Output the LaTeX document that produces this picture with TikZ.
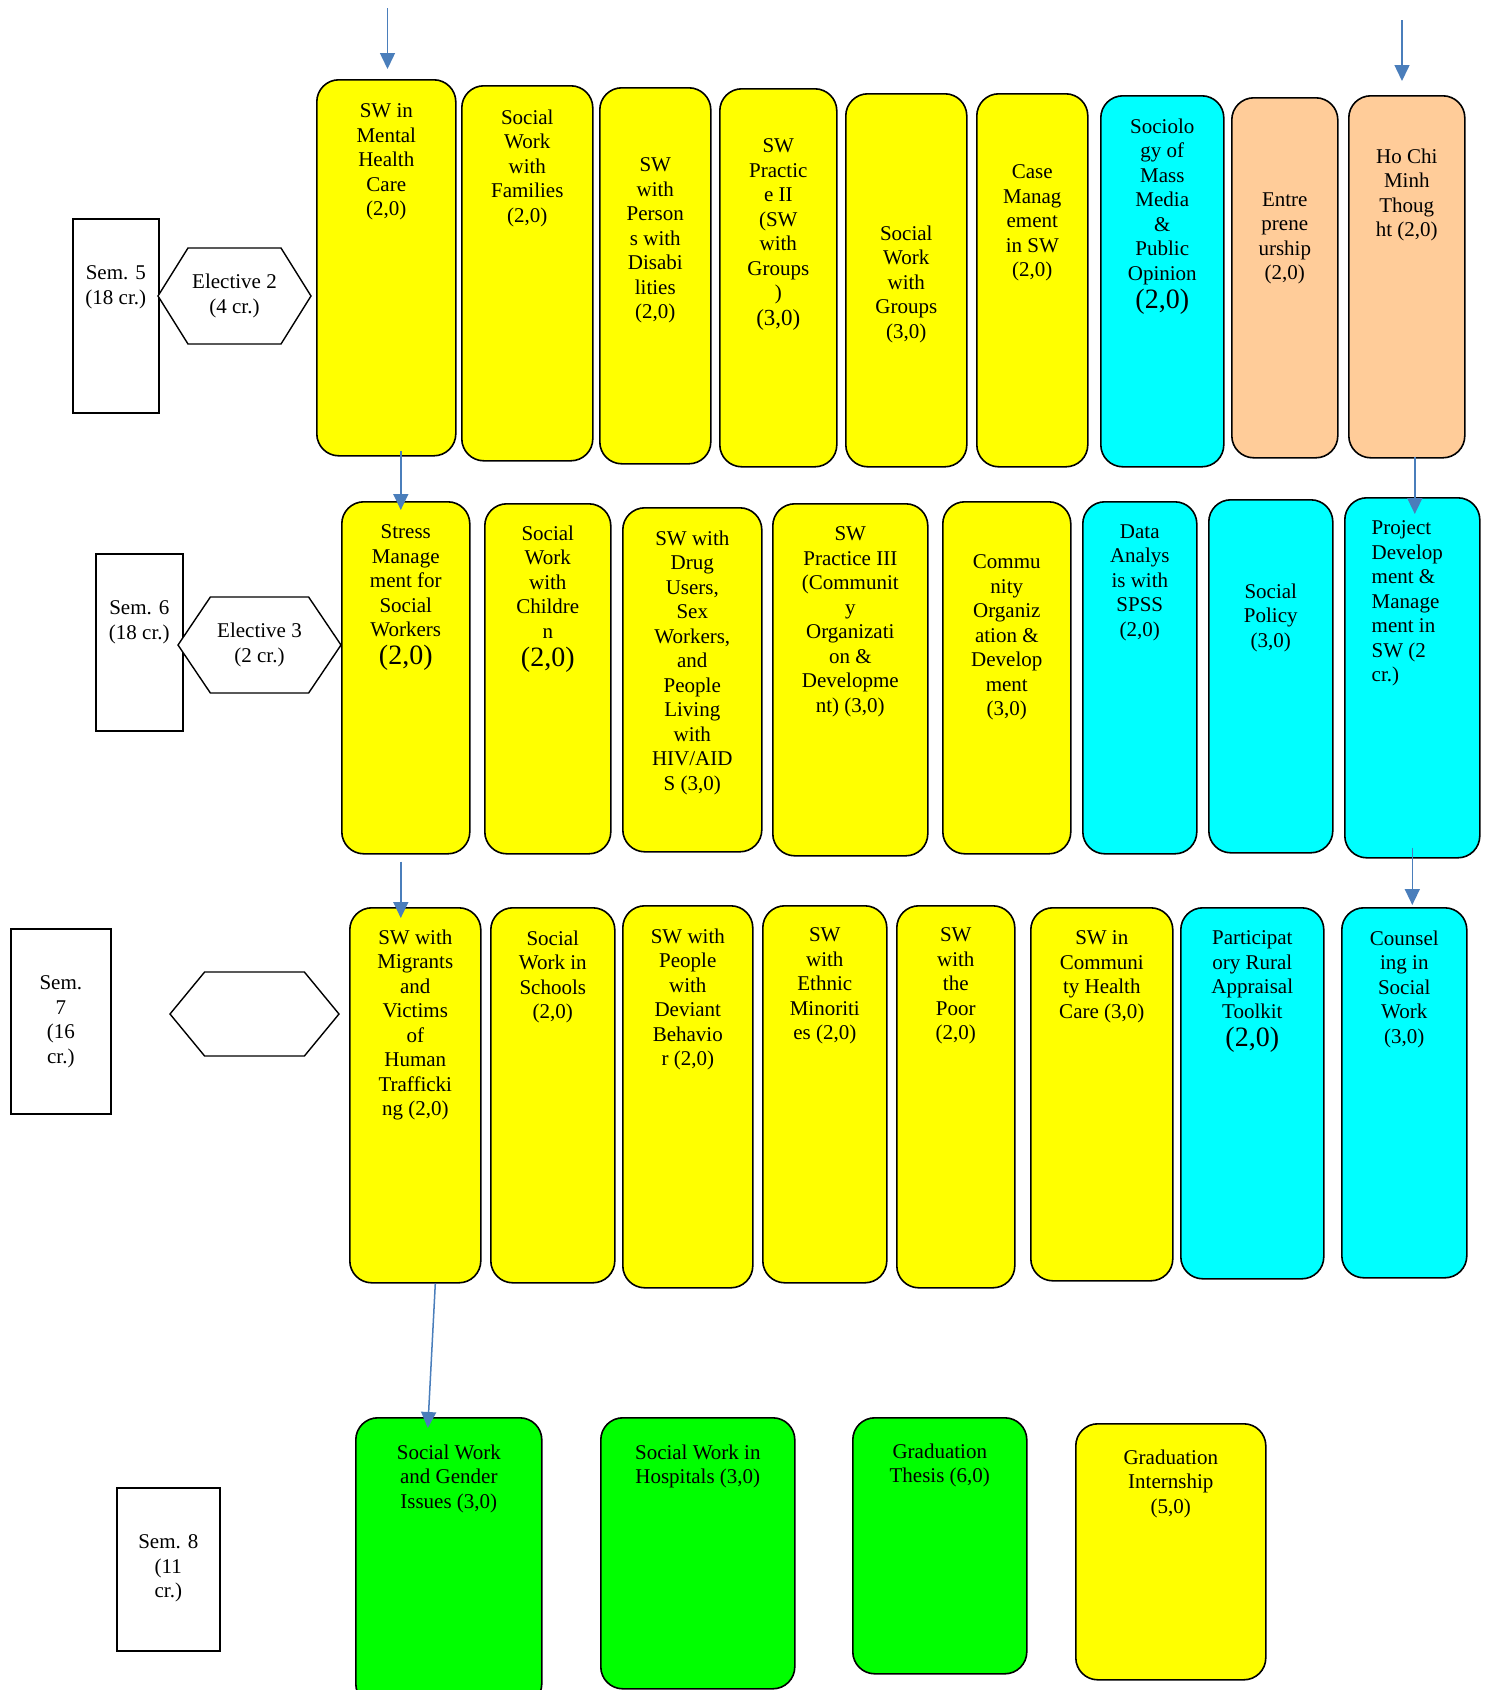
\documentclass[tikz,border=0pt]{standalone}
\usepackage{fontspec}
\setmainfont{Liberation Serif}
\usetikzlibrary{arrows.meta}
\usetikzlibrary{shapes.symbols}

\definecolor{swyellow}{HTML}{FFFF00}
\definecolor{swcyan}{HTML}{00FFFF}
\definecolor{swpeach}{HTML}{FFCC99}
\definecolor{swgreen}{HTML}{00FF00}
\definecolor{flowblue}{HTML}{4A7EBB}

\newcommand{\coursefont}{\fontsize{21}{24.5}\selectfont}
\newcommand{\bigcr}[1]{{\fontsize{28}{30}\selectfont #1}}
\newcommand{\midcr}[1]{{\fontsize{23}{26}\selectfont #1}}

\begin{document}
\begin{tikzpicture}
 [ x=1pt, y=-1pt
 , course/.style={draw, line width=1.6pt, rounded corners=22pt, anchor=north west, inner sep=0pt}
 , sem/.style={draw, line width=1.6pt, anchor=north west, inner sep=0pt}
 , elective/.style={draw, line width=1.4pt, fill=white, signal, signal to=east and west, inner sep=0pt, align=center, font=\coursefont}
 , txt/.style={align=center, inner sep=0pt, anchor=north, yshift=-2.5pt, font=\coursefont, execute at begin node=\strut}
 , flow/.style={draw=flowblue, line width=1.5pt, -{Triangle[length=16pt,width=15pt]}}
 ]
  \useasboundingbox (0,0) rectangle (1490,1690);

  % semester 5
  \node [sem, minimum width=86pt, minimum height=194pt] (s5) at (72,218) {};
  \node [txt] (s5-t) at ([yshift=-45pt]s5.north) {Sem. 5\\(18 cr.)};
  \node [elective, minimum width=153pt, minimum height=96pt, signal pointer angle=116] (el5) at (234.5,296) {Elective 2\\(4 cr.)};

  \node [course, fill=swyellow, minimum width=139pt, minimum height=376pt] (mental) at (316,79) {};
  \node [txt] (mental-t) at ([yshift=-22pt]mental.north) {SW in\\Mental\\Health\\Care\\(2,0)};
  \node [course, fill=swyellow, minimum width=131pt, minimum height=375pt] (families) at (461,85) {};
  \node [txt] (families-t) at ([yshift=-22pt]families.north) {Social\\Work\\with\\Families\\(2,0)};
  \node [course, fill=swyellow, minimum width=111pt, minimum height=376pt] (disab) at (599,87) {};
  \node [txt] (disab-t) at ([yshift=-68pt]disab.north) {SW\\with\\Person\\s with\\Disabi\\lities\\(2,0)};
  \node [course, fill=swyellow, minimum width=117pt, minimum height=378pt] (prac2) at (719,88) {};
  \node [txt] (prac2-t) at ([yshift=-48pt]prac2.north) {SW\\Practic\\e II\\(SW\\with\\Groups\\)\\[1pt]\midcr{(3,0)}};
  \node [course, fill=swyellow, minimum width=121pt, minimum height=373pt] (groups) at (845,93) {};
  \node [txt] (groups-t) at ([yshift=-130pt]groups.north) {Social\\Work\\with\\Groups\\(3,0)};
  \node [course, fill=swyellow, minimum width=111pt, minimum height=373pt] (casem) at (976,93) {};
  \node [txt] (casem-t) at ([yshift=-69pt]casem.north) {Case\\Manag\\ement\\in SW\\(2,0)};
  \node [course, fill=swcyan, minimum width=123pt, minimum height=371pt] (media) at (1100,95) {};
  \node [txt] (media-t) at ([yshift=-21pt]media.north) {Sociolo\\gy of\\Mass\\Media\\\&\\Public\\Opinion\\[3.5pt]\bigcr{(2,0)}};
  \node [course, fill=swpeach, minimum width=106pt, minimum height=360pt] (entre) at (1231,97) {};
  \node [txt] (entre-t) at ([yshift=-93pt]entre.north) {Entre\\prene\\urship\\(2,0)};
  \node [course, fill=swpeach, minimum width=116pt, minimum height=362pt] (hcm) at (1348,95) {};
  \node [txt] (hcm-t) at ([yshift=-51pt]hcm.north) {Ho Chi\\Minh\\Thoug\\ht (2,0)};

  % semester 6
  \node [sem, minimum width=87pt, minimum height=177pt] (s6) at (95,553) {};
  \node [txt] (s6-t) at ([yshift=-45pt]s6.north) {Sem. 6\\(18 cr.)};
  \node [elective, minimum width=163pt, minimum height=96pt, signal pointer angle=112] (el6) at (259.5,645) {Elective 3\\(2 cr.)};

  \node [course, fill=swyellow, minimum width=128pt, minimum height=352pt] (stress) at (341,501) {};
  \node [txt] (stress-t) at ([yshift=-21pt]stress.north) {Stress\\Manage\\ment for\\Social\\Workers\\[3.5pt]\bigcr{(2,0)}};
  \node [course, fill=swyellow, minimum width=126pt, minimum height=350pt] (children) at (484,503) {};
  \node [txt] (children-t) at ([yshift=-20pt]children.north) {Social\\Work\\with\\Childre\\n\\[3.5pt]\bigcr{(2,0)}};
  \node [course, fill=swyellow, minimum width=139pt, minimum height=344pt] (drug) at (622,507) {};
  \node [txt] (drug-t) at ([yshift=-21pt]drug.north) {SW with\\Drug\\Users,\\Sex\\Workers,\\and\\People\\Living\\with\\HIV/AID\\S (3,0)};
  \node [course, fill=swyellow, minimum width=155pt, minimum height=352pt] (prac3) at (772,503) {};
  \node [txt] (prac3-t) at ([yshift=-21pt]prac3.north) {SW\\Practice III\\(Communit\\y\\Organizati\\on \&\\Developme\\nt) (3,0)};
  \node [course, fill=swyellow, minimum width=128pt, minimum height=352pt] (commdev) at (942,501) {};
  \node [txt] (commdev-t) at ([yshift=-51pt]commdev.north) {Commu\\nity\\Organiz\\ation \&\\Develop\\ment\\(3,0)};
  \node [course, fill=swcyan, minimum width=114pt, minimum height=352pt] (spss) at (1082,501) {};
  \node [txt] (spss-t) at ([yshift=-21pt]spss.north) {Data\\Analys\\is with\\SPSS\\(2,0)};
  \node [course, fill=swcyan, minimum width=124pt, minimum height=353pt] (policy) at (1208,499) {};
  \node [txt] (policy-t) at ([yshift=-82pt]policy.north) {Social\\Policy\\(3,0)};
  \node [course, fill=swcyan, minimum width=135pt, minimum height=360pt] (project) at (1344,497) {};
  \node [txt, anchor=north west, align=left] (project-t) at ([xshift=27.5pt,yshift=-21pt]project.north west) {Project\\Develop\\ment \&\\Manage\\ment in\\SW (2\\cr.)};

  % semester 7
  \node [sem, minimum width=100pt, minimum height=185pt] (s7) at (10,928) {};
  \node [txt] (s7-t) at ([yshift=-45pt]s7.north) {Sem.\\7\\(16\\cr.)};
  \node [elective, minimum width=169pt, minimum height=84pt, signal pointer angle=101] (el7) at (254.5,1014) {};

  \node [course, fill=swyellow, minimum width=131pt, minimum height=375pt] (migrants) at (349,907) {};
  \node [txt] (migrants-t) at ([yshift=-20pt]migrants.north) {SW with\\Migrants\\and\\Victims\\of\\Human\\Trafficki\\ng (2,0)};
  \node [course, fill=swyellow, minimum width=124pt, minimum height=375pt] (schools) at (490,907) {};
  \node [txt] (schools-t) at ([yshift=-21pt]schools.north) {Social\\Work in\\Schools\\(2,0)};
  \node [course, fill=swyellow, minimum width=130pt, minimum height=382pt] (deviant) at (622,905) {};
  \node [txt] (deviant-t) at ([yshift=-21pt]deviant.north) {SW with\\People\\with\\Deviant\\Behavio\\r (2,0)};
  \node [course, fill=swyellow, minimum width=124pt, minimum height=377pt] (ethnic) at (762,905) {};
  \node [txt] (ethnic-t) at ([yshift=-20pt]ethnic.north) {SW\\with\\Ethnic\\Minoriti\\es (2,0)};
  \node [course, fill=swyellow, minimum width=118pt, minimum height=382pt] (poor) at (896,905) {};
  \node [txt] (poor-t) at ([yshift=-20pt]poor.north) {SW\\with\\the\\Poor\\(2,0)};
  \node [course, fill=swyellow, minimum width=142pt, minimum height=373pt] (commhealth) at (1030,907) {};
  \node [txt] (commhealth-t) at ([yshift=-21pt]commhealth.north) {SW in\\Communi\\ty Health\\Care (3,0)};
  \node [course, fill=swcyan, minimum width=143pt, minimum height=371pt] (pra) at (1180,907) {};
  \node [txt] (pra-t) at ([yshift=-21pt]pra.north) {Participat\\ory Rural\\Appraisal\\Toolkit\\[3.5pt]\bigcr{(2,0)}};
  \node [course, fill=swcyan, minimum width=125pt, minimum height=370pt] (counsel) at (1341,907) {};
  \node [txt] (counsel-t) at ([yshift=-21pt]counsel.north) {Counsel\\ing in\\Social\\Work\\(3,0)};

  % semester 8
  \node [sem, minimum width=103pt, minimum height=163pt] (s8) at (116,1487) {};
  \node [txt] (s8-t) at ([yshift=-45pt]s8.north) {Sem. 8\\(11\\cr.)};

  \node [course, fill=swgreen, minimum width=186pt, minimum height=288pt] (gender) at (355,1417) {};
  \node [txt] (gender-t) at ([yshift=-25pt]gender.north) {Social Work\\and Gender\\Issues (3,0)};
  \node [course, fill=swgreen, minimum width=194pt, minimum height=271pt] (hospitals) at (600,1417) {};
  \node [txt] (hospitals-t) at ([yshift=-25pt]hospitals.north) {Social Work in\\Hospitals (3,0)};
  \node [course, fill=swgreen, minimum width=174pt, minimum height=256pt] (thesis) at (852,1417) {};
  \node [txt] (thesis-t) at ([yshift=-24pt]thesis.north) {Graduation\\Thesis (6,0)};
  \node [course, fill=swyellow, minimum width=190pt, minimum height=256pt] (internship) at (1075,1423) {};
  \node [txt] (internship-t) at ([yshift=-24pt]internship.north) {Graduation\\Internship\\(5,0)};

  % arrows
  \coordinate (in5a) at (387.5,8);
  \coordinate (in5b) at (1402,20);
  \draw [flow, shorten >=10pt] (in5a) -- (in5a |- mental.north);
  \draw [flow, shorten >=14pt] (in5b) -- (in5b |- hcm.north);
  \draw [flow, shorten <=-6pt, shorten >=-9pt] ([xshift=14.5pt]mental.south) -- ([xshift=14.5pt]mental.south |- stress.north);
  \draw [flow, shorten <=-2pt, shorten >=-17pt] ([xshift=8pt]hcm.south) -- ([xshift=8pt]hcm.south |- project.north);
  \draw [flow, shorten <=7pt, shorten >=-11pt] ([xshift=-5pt]stress.south) -- ([xshift=-5pt]stress.south |- migrants.north);
  \draw [flow, shorten <=-11pt, shorten >=2pt] (project.south) -- (project.south |- counsel.north);
  \draw [flow] ([xshift=20pt]migrants.south) -- ([xshift=-21pt,yshift=-11pt]gender.north);
\end{tikzpicture}
\end{document}
